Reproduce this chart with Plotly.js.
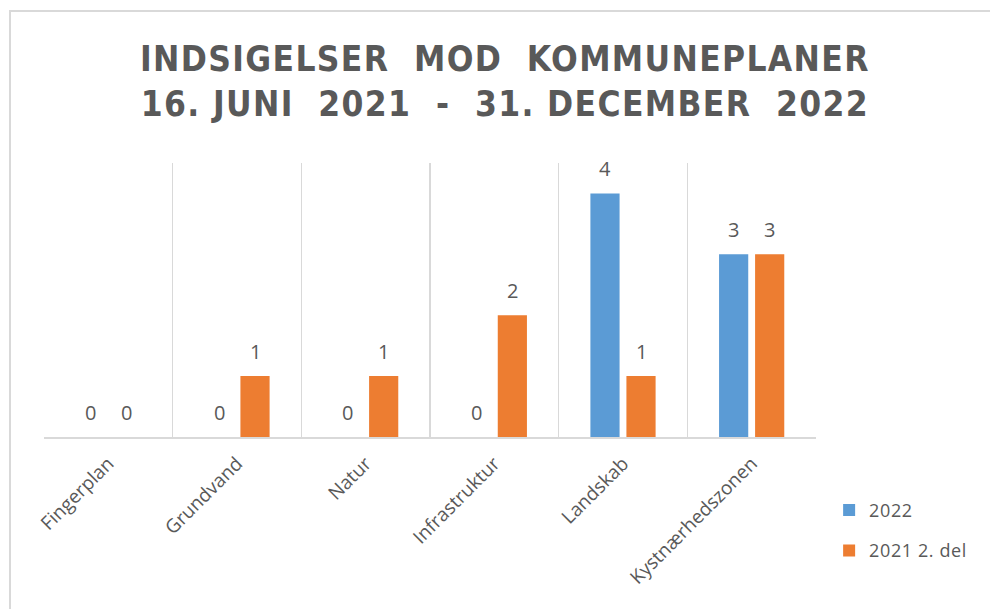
<!DOCTYPE html>
<html>
<head>
<meta charset="utf-8">
<script src="https://cdn.plot.ly/plotly-3.0.1.min.js"></script>
<style>
  html, body { margin: 0; padding: 0; background: #fff; }
  #wrap { position: relative; width: 990px; height: 609px; }
  #chart { position: absolute; left: 0; top: 0; width: 990px; height: 609px; }
  #frame { position: absolute; left: 9px; top: 10px; width: 990px; height: 610px;
           border-left: 2px solid #d9d9d9; border-top: 2px solid #d9d9d9; pointer-events: none; }
  .gtitle { letter-spacing: 1.35px; }
  .legendtext { letter-spacing: 0.6px; }
</style>
</head>
<body>
<div id="wrap">
  <div id="chart"></div>
  <div id="frame"></div>
</div>
<script>
const categories = ["Fingerplan", "Grundvand", "Natur", "Infrastruktur", "Landskab", "Kystnærhedszonen"];
const seriesNames = ["2022", "2021 2. del"];
const values2022 = [0, 0, 0, 0, 4, 3];
const values2021 = [0, 1, 1, 2, 1, 3];
const colors = ["#5B9BD5", "#ED7D31"];

const labelColor = "#595959";
const fontFamily = "'Open Sans', 'Liberation Sans', sans-serif";

const allSeries = [values2022, values2021];
const traces = allSeries.map((vals, i) => ({
  type: "bar",
  name: seriesNames[i],
  x: categories,
  y: vals,
  marker: { color: colors[i] },
  legendgroup: "g" + i,
  hoverinfo: "x+y+name"
}));

const offsets = [-18, 18];
const annotations = [];
allSeries.forEach((vals, i) => {
  vals.forEach((v, j) => {
    annotations.push({
      x: categories[j], y: v, xref: "x", yref: "y",
      text: String(v), showarrow: false,
      xanchor: "center", yanchor: "bottom",
      xshift: offsets[i], yshift: 9,
      font: { family: fontFamily, size: 20, color: labelColor }
    });
  });
});

const layout = {
  width: 990, height: 609,
  paper_bgcolor: "#ffffff", plot_bgcolor: "#ffffff",
  margin: { l: 44, r: 174, t: 163, b: 172 },
  title: {
    text: "INDSIGELSER  MOD  KOMMUNEPLANER<br>16. JUNI  2021  -  31. DECEMBER  2022",
    x: 0.51, xref: "container", xanchor: "center",
    y: 0.884, yref: "container", yanchor: "middle",
    font: { family: "'Liberation Sans Narrow', 'DejaVu Sans Condensed', 'Open Sans', sans-serif", size: 35, color: labelColor, weight: "bold" }
  },
  bargap: 0.44,
  bargroupgap: 0.19,
  barmode: "group",
  xaxis: {
    type: "category",
    tickson: "boundaries",
    showgrid: true, gridcolor: "#d9d9d9", gridwidth: 1.5,
    showline: true, linecolor: "#d9d9d9", linewidth: 2,
    ticks: "", tickangle: -45,
    ticklabelstandoff: 6,
    tickfont: { family: fontFamily, size: 19, color: labelColor },
    fixedrange: true
  },
  yaxis: {
    range: [0, 4.5],
    showgrid: false, zeroline: false, showline: false,
    showticklabels: false, ticks: "", fixedrange: true
  },
  legend: {
    orientation: "v",
    x: 1.017, xanchor: "left",
    y: -0.2, yanchor: "top",
    tracegroupgap: 14,
    itemwidth: 30,
    font: { family: fontFamily, size: 18, color: labelColor },
    bgcolor: "rgba(0,0,0,0)"
  },
  annotations: annotations,
  showlegend: true
};

Plotly.newPlot("chart", traces, layout, { displayModeBar: false, staticPlot: true });
</script>
</body>
</html>
